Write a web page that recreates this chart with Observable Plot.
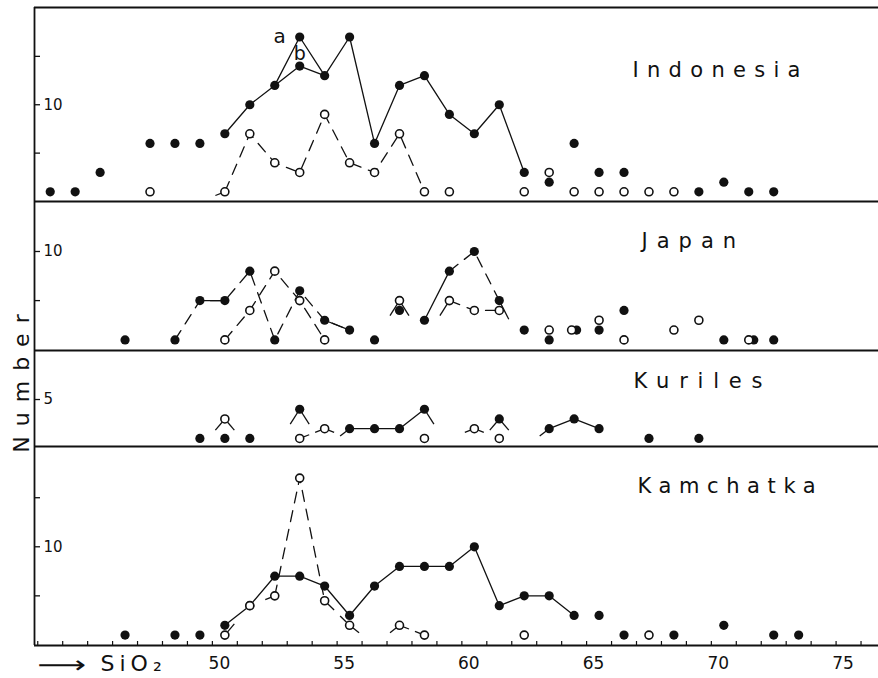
<!DOCTYPE html>
<html>
<head>
<meta charset="utf-8">
<script src="https://cdn.jsdelivr.net/npm/d3@7"></script>
<script src="https://cdn.jsdelivr.net/npm/@observablehq/plot@0.6"></script>
<style>
  html, body { margin: 0; padding: 0; background: #fff; }
  #chart { width: 878px; height: 678px; overflow: hidden; background: #fff; }
  #chart svg { display: block; overflow: visible; }
</style>
</head>
<body>
<div id="chart"></div>
<script>
// ---------- DATA: [SiO2 bin centre (wt%), number of samples] ----------
// Indonesia
const indonesiaFilled = [[43.5,1],[44.5,1],[45.5,3],[47.5,6],[48.5,6],[49.5,6],[50.5,7],[51.5,10],[52.5,12],[53.5,17],[53.5,14],[54.5,13],[55.5,17],[56.5,6],[57.5,12],[58.5,13],[59.5,9],[60.5,7],[61.5,10],[62.5,3],[63.5,2],[64.5,6],[65.5,3],[66.5,3],[69.5,1],[70.5,2],[71.5,1],[72.5,1]];
const indonesiaOpen = [[47.5,1],[50.5,1],[51.5,7],[52.5,4],[53.5,3],[54.5,9],[55.5,4],[56.5,3],[57.5,7],[58.5,1],[59.5,1],[62.5,1],[63.5,3],[64.5,1],[65.5,1],[66.5,1],[67.5,1],[68.5,1]];
const indonesiaLineA = [[50.5,7],[51.5,10],[52.5,12],[53.5,17],[54.5,13],[55.5,17],[56.5,6],[57.5,12],[58.5,13],[59.5,9],[60.5,7],[61.5,10],[62.5,3]];
const indonesiaLineB = [[52.5,12],[53.5,14],[54.5,13]];
const indonesiaOpenLine = [[50.5,1],[51.5,7],[52.5,4],[53.5,3],[54.5,9],[55.5,4],[56.5,3],[57.5,7],[58.5,1]];
const indonesiaTails = [[50.5,1,49.5,0]];
const indonesiaNotes = [["a",53.5,17],["b",53.5,14]];

// Japan
const japanFilled = [[46.5,1],[48.5,1],[49.5,5],[50.5,5],[51.5,8],[52.5,1],[53.5,6],[54.5,3],[55.5,2],[56.5,1],[57.5,4],[58.5,3],[59.5,8],[60.5,10],[61.5,5],[62.5,2],[63.5,1],[64.6,2],[65.5,2],[66.5,4],[70.5,1],[71.7,1],[72.5,1]];
const japanOpen = [[50.5,1],[51.5,4],[52.5,8],[53.5,5],[54.5,1],[57.5,5],[59.5,5],[60.5,4],[61.5,4],[63.5,2],[64.4,2],[65.5,3],[66.5,1],[68.5,2],[69.5,3],[71.5,1]];
const japanFilledLineLeft = [[48.5,1],[49.5,5],[50.5,5],[51.5,8],[52.5,1],[53.5,6],[54.5,3],[55.5,2]];
const japanFilledSolidA = [[49.5,5],[50.5,5]];
const japanFilledSolidB = [[54.5,3],[55.5,2]];
const japanFilledSolidC = [[58.5,3],[59.5,8]];
const japanFilledLineRight = [[59.5,8],[60.5,10],[61.5,5]];
const japanOpenLineLeft = [[50.5,1],[51.5,4],[52.5,8],[53.5,5],[54.5,1]];
const japanOpenLineRight = [[59.5,5],[60.5,4],[61.5,4]];
const japanTails = [[57.5,5,56.5,1],[57.5,5,58.5,1],[61.5,5,62.5,0],[59.5,5,58.5,1]];

// Kuriles
const kurilesFilled = [[49.5,1],[50.5,1],[51.5,1],[53.5,4],[55.5,2],[56.5,2],[57.5,2],[58.5,4],[61.5,3],[63.5,2],[64.5,3],[65.5,2],[67.5,1],[69.5,1]];
const kurilesOpen = [[50.5,3],[53.5,1],[54.5,2],[58.5,1],[60.5,2],[61.5,1]];
const kurilesLineA = [[55.5,2],[56.5,2],[57.5,2],[58.5,4]];
const kurilesLineB = [[63.5,2],[64.5,3],[65.5,2]];
const kurilesTails = [[50.5,3,49.5,0],[50.5,3,51.5,0],[53.5,4,52.5,0],[53.5,4,54.5,0],[53.5,1,54.5,2],[54.5,2,53.5,1],[54.5,2,55.5,1],[55.5,2,54.5,0],[58.5,4,59.5,0],[60.5,2,59.5,1],[60.5,2,61.5,1],[61.5,3,60.5,0],[61.5,3,62.5,0],[63.5,2,62.5,0]];

// Kamchatka
const kamchatkaFilled = [[46.5,1],[48.5,1],[49.5,1],[50.5,2],[51.5,4],[52.5,7],[53.5,7],[54.5,6],[55.5,3],[56.5,6],[57.5,8],[58.5,8],[59.5,8],[60.5,10],[61.5,4],[62.5,5],[63.5,5],[64.5,3],[65.5,3],[66.5,1],[68.5,1],[70.5,2],[72.5,1],[73.5,1]];
const kamchatkaOpen = [[50.5,1],[51.5,4],[52.5,5],[53.5,17],[54.5,4.5],[55.5,2],[57.5,2],[58.5,1],[62.5,1],[67.5,1]];
const kamchatkaLine = [[50.5,2],[51.5,4],[52.5,7],[53.5,7],[54.5,6],[55.5,3],[56.5,6],[57.5,8],[58.5,8],[59.5,8],[60.5,10],[61.5,4],[62.5,5],[63.5,5],[64.5,3]];
const kamchatkaOpenLine = [[52.5,5],[53.5,17],[54.5,4.5]];
const kamchatkaTails = [[50.5,1,51.5,4],[52.5,5,51.5,4],[54.5,4.5,55.5,2],[55.5,2,54.5,4.5],[55.5,2,56.5,0],[57.5,2,56.5,0],[57.5,2,58.5,1],[58.5,1,57.5,2]];

// Axis ticks and labels
const xMinorTicks = d3.range(43, 77);
const xTickLabels = [50, 55, 60, 65, 70, 75];
const indonesiaYTicks = [5, 10, 15], indonesiaYLabels = [10];
const japanYTicks = [5, 10], japanYLabels = [10];
const kurilesYTicks = [5], kurilesYLabels = [5];
const kamchatkaYTicks = [5, 10, 15], kamchatkaYLabels = [10];

// ---------- DRAWING ----------
const INK = "#111";
const FONT = "DejaVu Sans, sans-serif";
const X_DOMAIN = [42.87, 76.70];
const TAIL = 0.38;
const px = d => d[0], py = d => d[1];

function panel(o) {
  const marks = [
    Plot.ruleX([X_DOMAIN[0]], {stroke: INK, strokeWidth: 1.8}),
    Plot.ruleY([o.yDomain[0]], {stroke: INK, strokeWidth: 1.8}),
    Plot.axisY(o.yTicks, {anchor: "left", tickSize: 6, dx: 6, tickFormat: () => "", strokeWidth: 1.3, color: INK}),
    Plot.text(o.yLabels, {y: d => d, text: d => String(d), frameAnchor: "left", dx: 9, textAnchor: "start", lineAnchor: "middle", fontSize: 15, fill: INK}),
    ...(o.dashed || []).map(l => Plot.line(l, {x: px, y: py, stroke: INK, strokeWidth: 1.3, strokeDasharray: "11,8"})),
    ...(o.solid || []).map(l => Plot.line(l, {x: px, y: py, stroke: INK, strokeWidth: 1.3})),
    Plot.link(o.tails || [], {
      x1: d => d[0], y1: d => d[1],
      x2: d => d[0] + (d[2] - d[0]) * TAIL, y2: d => d[1] + (d[3] - d[1]) * TAIL,
      stroke: INK, strokeWidth: 1.3
    }),
    Plot.dot(o.filled, {x: px, y: py, r: 4.6, fill: INK, stroke: "none"}),
    Plot.dot(o.open, {x: px, y: py, r: 4, fill: "white", stroke: INK, strokeWidth: 1.6}),
    Plot.text([o.name], {frameAnchor: "top-left", dx: o.nameDx, dy: o.nameDy, textAnchor: "start", lineAnchor: "middle", fontSize: 21, fill: INK}),
    ...(o.extra || [])
  ];
  return Plot.plot({
    width: 878, height: o.height,
    marginLeft: 34, marginRight: 0, marginTop: o.marginTop || 0, marginBottom: o.marginBottom || 0,
    x: o.xAxis ? {domain: X_DOMAIN} : {domain: X_DOMAIN, axis: null},
    y: {domain: o.yDomain},
    style: {background: "transparent", overflow: "visible", fontFamily: FONT, color: INK},
    marks
  });
}

const chart = document.getElementById("chart");

chart.append(panel({
  height: 201, marginTop: 7, yDomain: [0, 20.05],
  filled: indonesiaFilled, open: indonesiaOpen,
  solid: [indonesiaLineA, indonesiaLineB], dashed: [indonesiaOpenLine], tails: indonesiaTails,
  yTicks: indonesiaYTicks, yLabels: indonesiaYLabels,
  name: "Indonesia", nameDx: 598, nameDy: 63,
  extra: [
    Plot.ruleY([20.05], {stroke: INK, strokeWidth: 1.8}),
    Plot.text(indonesiaNotes.filter(d => d[0] === "a"), {x: d => d[1], y: d => d[2], text: d => d[0], dx: -20, fontSize: 20, fill: INK}),
    Plot.text(indonesiaNotes.filter(d => d[0] === "b"), {x: d => d[1], y: d => d[2], text: d => d[0], dy: -12, fontSize: 19, fill: INK})
  ]
}));

chart.append(panel({
  height: 149, yDomain: [-0.08, 15.09],
  filled: japanFilled, open: japanOpen,
  solid: [japanFilledSolidA, japanFilledSolidB, japanFilledSolidC],
  dashed: [japanFilledLineLeft, japanFilledLineRight, japanOpenLineLeft, japanOpenLineRight],
  tails: japanTails,
  yTicks: japanYTicks, yLabels: japanYLabels,
  name: "Japan", nameDx: 607, nameDy: 40
}));

chart.append(panel({
  height: 96, yDomain: [0.17, 10.04],
  filled: kurilesFilled, open: kurilesOpen,
  solid: [kurilesLineA, kurilesLineB], tails: kurilesTails,
  yTicks: kurilesYTicks, yLabels: kurilesYLabels,
  name: "Kuriles", nameDx: 599, nameDy: 31,
  extra: [
    Plot.text(["Number"], {frameAnchor: "left", rotate: -90, dx: -13, dy: -20, textAnchor: "middle", lineAnchor: "middle", fontSize: 22, fill: INK})
  ]
}));

chart.append(panel({
  height: 232, marginBottom: 33, yDomain: [-0.06, 20.22], xAxis: true,
  filled: kamchatkaFilled, open: kamchatkaOpen,
  solid: [kamchatkaLine], dashed: [kamchatkaOpenLine], tails: kamchatkaTails,
  yTicks: kamchatkaYTicks, yLabels: kamchatkaYLabels,
  name: "Kamchatka", nameDx: 603, nameDy: 40,
  extra: [
    Plot.axisX(xMinorTicks, {anchor: "bottom", tickSize: 4, dy: -4, tickFormat: () => "", strokeWidth: 1.2, color: INK}),
    Plot.text(xTickLabels, {x: d => d, text: d => String(d), frameAnchor: "bottom", dx: 7, dy: 18, lineAnchor: "middle", fontSize: 17, fill: INK}),
    Plot.text(["SiO₂"], {frameAnchor: "bottom-left", dx: 66, dy: 18, textAnchor: "start", lineAnchor: "middle", fontSize: 22, fill: INK}),
    Plot.text(["⟶"], {frameAnchor: "bottom-left", dx: 3, dy: 20, textAnchor: "start", lineAnchor: "middle", fontSize: 24, fill: INK})
  ]
}));

// letter spacing of the hand-lettered labels
const spacing = {"Indonesia": 8.3, "Japan": 9, "Kuriles": 9.8, "Kamchatka": 7.6, "Number": 10, "SiO₂": 5};
chart.querySelectorAll("text").forEach(t => {
  const s = spacing[t.textContent];
  if (s != null) t.style.letterSpacing = s + "px";
  if (t.textContent === "⟶") {
    const tr = t.getAttribute("transform") || "";
    t.setAttribute("transform", tr + " scale(1.42,1)");
  }
});
</script>
</body>
</html>
